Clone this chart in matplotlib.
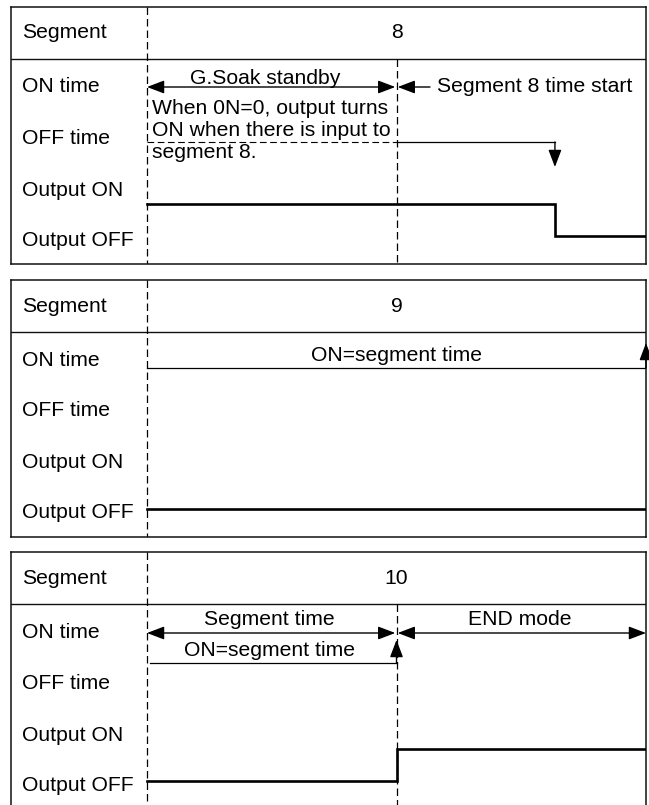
import matplotlib
matplotlib.use("Agg")
import matplotlib.pyplot as plt
from matplotlib.patches import FancyArrowPatch

plt.rcParams['font.family'] = ['Liberation Sans', 'DejaVu Sans']

# ---- data ----
segments = ["8", "9", "10"]
row_labels = ["Segment", "ON time", "OFF time", "Output ON", "Output OFF"]
# output signal: transition times (t=0 segment-start marker, t=1 next marker, t=2 end)
out_t = [[0, 1.635, 1.635, 2.0], [0, 2.0], [0, 1.0, 1.0, 2.0]]
out_level = [["ON", "ON", "OFF", "OFF"], ["OFF", "OFF"], ["OFF", "OFF", "ON", "ON"]]

# ---- layout (pixel geometry) ----
W, H = 649, 805
FS = 15.2
panel_tops = [7, 280, 552]
panel_h = 257
px_left, px_right = 11, 646
x0_px, unit_px = 147, 249.5
t_min = (px_left - x0_px) / unit_px
t_max = (px_right - x0_px) / unit_px
row_y = [26, 80, 131, 183, 233]
level_y = {"ON": 197, "OFF": 229}
header_y = 52

fig = plt.figure(figsize=(W / 100, H / 100), dpi=100)
fig.patch.set_facecolor("white")

dash = (0, (6.0, 3.2))


def arrow(ax, p0, p1, style, lw=1.0):
    a = FancyArrowPatch(p0, p1, arrowstyle=style, mutation_scale=1,
                        shrinkA=0, shrinkB=0, lw=lw, color="black",
                        clip_on=False, zorder=4)
    ax.add_patch(a)


def tx(px):
    return (px - x0_px) / unit_px


HEAD = "-|>,head_length=10.5,head_width=4.0"
DHEAD = "<|-|>,head_length=10.5,head_width=4.0"

axes = []
for i, top in enumerate(panel_tops):
    ax = fig.add_axes([px_left / W, 1 - (top + panel_h) / H,
                       (px_right - px_left) / W, panel_h / H])
    ax.set_xlim(t_min, t_max)
    ax.set_ylim(panel_h, 0)
    ax.set_xticks([])
    ax.set_yticks([])
    for s in ax.spines.values():
        s.set_linewidth(1.1)
        s.set_color("#111111")
    ax.axhline(header_y, color="#111111", lw=1.0)
    # row labels
    for lab, y in zip(row_labels, row_y):
        ax.text(tx(22), y, lab, fontsize=FS, ha="left", va="center")
    ax.text(1.0, row_y[0], segments[i], fontsize=FS, ha="center", va="center")
    # dashed marker lines
    ax.plot([0, 0], [0, panel_h], color="black", lw=0.9, linestyle=dash)
    if i != 1:
        ax.plot([1, 1], [header_y, panel_h], color="black", lw=0.9, linestyle=dash)
    # output signal
    ax.plot(out_t[i], [level_y[l] for l in out_level[i]], color="black",
            lw=1.9, solid_joinstyle="miter", zorder=3)
    axes.append(ax)

# ---- panel 1 annotations ----
ax = axes[0]
arrow(ax, (0.0, 80), (0.995, 80), DHEAD)
ax.text(tx(265), 77, "G.Soak standby", fontsize=FS, ha="center", va="baseline")
arrow(ax, (tx(430), 80), (1.005, 80), HEAD)
ax.text(tx(437), 80, "Segment 8 time start", fontsize=FS, ha="left", va="center")
ax.text(tx(152), 107, "When 0N=0, output turns", fontsize=FS, ha="left", va="baseline")
ax.text(tx(152), 129, "ON when there is input to", fontsize=FS, ha="left", va="baseline")
ax.text(tx(152), 151, "segment 8.", fontsize=FS, ha="left", va="baseline")
ax.plot([0, 1], [135, 135], color="black", lw=0.8, linestyle=(0, (6.0, 3.2)))
ax.plot([1, 1.635], [135, 135], color="black", lw=0.9)
arrow(ax, (1.635, 135), (1.635, 160), HEAD)

# ---- panel 2 annotations ----
ax = axes[1]
ax.text(1.0, 81, "ON=segment time", fontsize=FS, ha="center", va="baseline")
ax.plot([0, t_max], [88, 88], color="black", lw=0.9)
arrow(ax, (t_max, 88), (t_max, 63), HEAD)

# ---- panel 3 annotations ----
ax = axes[2]
arrow(ax, (0.0, 81), (0.995, 81), DHEAD)
ax.text(tx(269), 73, "Segment time", fontsize=FS, ha="center", va="baseline")
ax.text(tx(269), 104, "ON=segment time", fontsize=FS, ha="center", va="baseline")
ax.plot([tx(150), 1.0], [111, 111], color="black", lw=0.9)
arrow(ax, (1.0, 111), (1.0, 88), HEAD)
arrow(ax, (1.005, 81), (t_max, 81), DHEAD)
ax.text(tx(520), 73, "END mode", fontsize=FS, ha="center", va="baseline")

fig.savefig("out.png", dpi=100, facecolor="white")
